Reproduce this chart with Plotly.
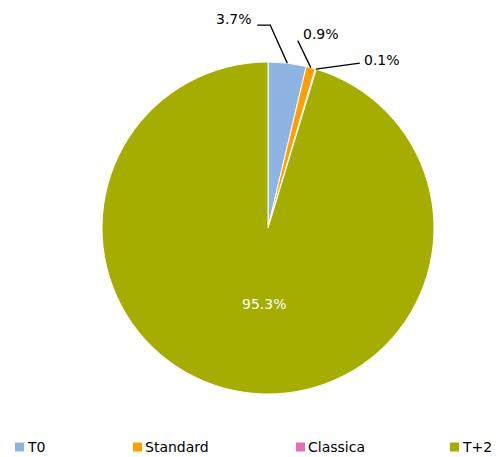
import math
import plotly.graph_objects as go

categories = ["T0", "Standard", "Classica", "T+2"]
values = [3.7, 0.9, 0.1, 95.3]
colors = ["#8EB4E3", "#FF9F00", "#E073B8", "#A5AD00"]
label_texts = ["3.7%", "0.9%", "0.1%", "95.3%"]

W, H = 499, 457
CX, CY, R = 268, 228, 166
FONT = "DejaVu Sans"


def px(x):
    return x / W


def py(y):
    return 1 - y / H


fig = go.Figure(go.Pie(
    labels=categories, values=values, sort=False, direction="clockwise", rotation=0,
    marker=dict(colors=colors, line=dict(color="white", width=1)),
    textinfo="none", hoverinfo="label+percent", showlegend=False,
    domain=dict(x=[px(CX - R), px(CX + R)], y=[py(CY + R), py(CY - R)]),
))

total = sum(values)
cum = 0
mids = []
for v in values:
    mids.append((cum + v / 2) / total * 2 * math.pi)
    cum += v


def edge(i, f=1.0):
    a = mids[i]
    return CX + f * R * math.sin(a), CY - f * R * math.cos(a)


shapes = []
annotations = []

# leader-line routing offsets (style): list of relative points from edge
routes = [
    [(-17, -38), (-30, -38)],
    [(-13, -27)],
    [(44, -6)],
]
text_pos = [
    dict(dx=-33, dy=-44, xanchor="right"),
    dict(dx=-10, dy=-34, xanchor="left"),
    dict(dx=46, dy=-9, xanchor="left"),
]
for i in range(3):
    ex, ey = edge(i)
    pts = [(ex, ey)] + [(ex + dx, ey + dy) for dx, dy in routes[i]]
    path = "M " + " L ".join(f"{px(x)},{py(y)}" for x, y in pts)
    shapes.append(dict(type="path", path=path, xref="paper", yref="paper",
                       line=dict(color="black", width=1.3)))
    tp = text_pos[i]
    annotations.append(dict(x=px(ex + tp["dx"]), y=py(ey + tp["dy"]), xref="paper", yref="paper",
                            text=label_texts[i], showarrow=False, xanchor=tp["xanchor"], yanchor="middle",
                            font=dict(family=FONT, size=14, color="black")))

lx, ly = edge(3, 0.46)
annotations.append(dict(x=px(lx + 7), y=py(ly), xref="paper", yref="paper", text=label_texts[3],
                        showarrow=False, xanchor="center", yanchor="middle",
                        font=dict(family=FONT, size=14, color="white")))

# legend
legend_x = [15, 133, 296, 450]
LY = 447
for i, name in enumerate(categories):
    x0 = legend_x[i]
    shapes.append(dict(type="rect", xref="paper", yref="paper",
                       x0=px(x0), x1=px(x0 + 9), y0=py(LY + 4.5), y1=py(LY - 4.5),
                       fillcolor=colors[i], line=dict(width=0)))
    annotations.append(dict(x=px(x0 + 10), y=py(LY), xref="paper", yref="paper", text=name,
                            showarrow=False, xanchor="left", yanchor="middle",
                            font=dict(family=FONT, size=14, color="black")))

fig.update_layout(width=W, height=H, margin=dict(l=0, r=0, t=0, b=0),
                  paper_bgcolor="white", plot_bgcolor="white",
                  shapes=shapes, annotations=annotations)
fig.write_html("out.html", config={"displayModeBar": False},
               post_script="document.body.style.margin='0';document.body.style.overflow='hidden';")
